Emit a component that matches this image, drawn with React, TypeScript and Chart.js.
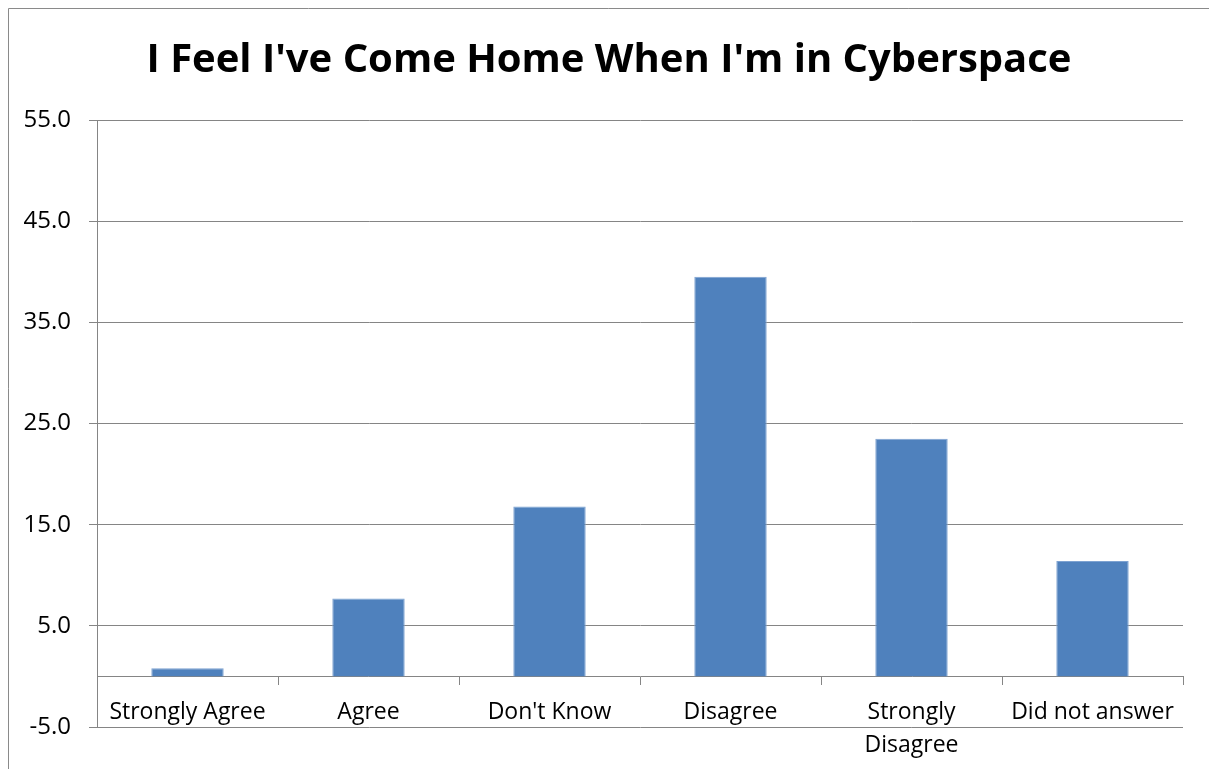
import React, { useEffect, useRef } from 'react';
import { Chart, registerables } from 'chart.js';

Chart.register(...registerables);

const titleText = "I Feel I've Come Home When I'm in Cyberspace";
const categories: (string | string[])[] = [
  'Strongly Agree',
  'Agree',
  "Don't Know",
  'Disagree',
  ['Strongly', 'Disagree'],
  'Did not answer',
];
const values = [0.8, 7.7, 16.8, 39.5, 23.5, 11.4];
const yTicks = [-5, 5, 15, 25, 35, 45, 55];

const GRID = '#858585';
const FONT = 'Open Sans';

const frame = {
  id: 'frame',
  beforeDraw(chart: any) {
    const ctx = chart.ctx;
    ctx.save();
    ctx.fillStyle = '#ffffff';
    ctx.fillRect(0, 0, chart.width, chart.height);
    ctx.strokeStyle = '#8a8a8a';
    ctx.lineWidth = 1;
    ctx.beginPath();
    ctx.moveTo(8.5, chart.height);
    ctx.lineTo(8.5, 8.5);
    ctx.lineTo(chart.width, 8.5);
    ctx.stroke();
    ctx.restore();
  },
};

export default function App() {
  const ref = useRef<HTMLCanvasElement>(null);

  useEffect(() => {
    if (!ref.current) return;
    const chart = new Chart(ref.current, {
      type: 'bar',
      data: {
        labels: categories,
        datasets: [
          {
            data: values,
            backgroundColor: '#4F81BD',
            borderColor: '#7DA2D1',
            borderWidth: 1,
            barPercentage: 0.4,
            categoryPercentage: 1,
          },
        ],
      },
      plugins: [frame],
      options: {
        animation: false,
        responsive: false,
        devicePixelRatio: 1,
        layout: { padding: { left: 9, right: 0, top: 0, bottom: 42 } },
        plugins: {
          legend: { display: false },
          tooltip: { enabled: false },
          title: {
            display: true,
            text: titleText,
            color: '#000',
            font: { family: FONT, size: 40, weight: 'bold', lineHeight: 1.2 },
            padding: { top: 37, bottom: 35 },
          },
        },
        scales: {
          x: {
            type: 'category',
            position: { y: 0 },
            offset: true,
            grid: {
              offset: true,
              drawOnChartArea: false,
              drawTicks: true,
              tickLength: 8,
              color: GRID,
            },
            border: { display: true, color: GRID, width: 1 },
            ticks: {
              color: '#000',
              font: { family: FONT, size: 23, lineHeight: 1.45 },
              padding: 11,
              maxRotation: 0,
              autoSkip: false,
            },
          },
          y: {
            type: 'linear',
            position: 'left',
            min: yTicks[0],
            max: yTicks[yTicks.length - 1],
            afterBuildTicks: (s: any) => {
              s.ticks = yTicks.map((v) => ({ value: v }));
            },
            afterFit: (s: any) => {
              s.width = 88;
            },
            grid: { color: GRID, tickLength: 8, drawTicks: true },
            border: { display: true, color: GRID, width: 1 },
            ticks: {
              color: '#000',
              font: { family: FONT, size: 24 },
              padding: 18,
              callback: (v: any) => Number(v).toFixed(1),
            },
          },
          y2: {
            type: 'linear',
            position: 'right',
            display: true,
            grid: { display: false, drawTicks: false },
            border: { display: false },
            ticks: { display: false },
            afterFit: (s: any) => {
              s.width = 26;
            },
          },
        },
      },
    } as any);
    return () => chart.destroy();
  }, []);

  return (
    <div style={{ position: 'fixed', left: 0, top: 0, width: 1209, height: 769, overflow: 'hidden', background: '#fff' }}>
      <canvas ref={ref} width={1209} height={769} style={{ display: 'block' }} />
    </div>
  );
}
